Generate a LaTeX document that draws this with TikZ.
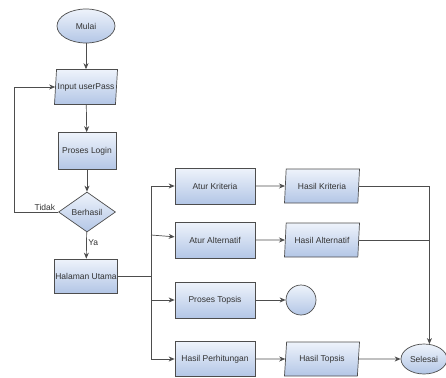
\documentclass[tikz,border=0pt]{standalone}
\usepackage{fontspec}
\setmainfont{Liberation Sans}
\usetikzlibrary{shapes.geometric,arrows.meta}
\definecolor{isiatas}{HTML}{EEF3FB}
\definecolor{isibawah}{HTML}{B3C6E6}
\definecolor{garis}{HTML}{4D4D4D}
\begin{document}
\begin{tikzpicture}[x=1pt,y=-1pt,
font=\fontsize{8.5}{10}\selectfont,
isi/.style={draw=garis, line width=0.7pt, top color=isiatas, bottom color=isibawah, inner sep=0pt, text=black!80},
proses/.style={isi, rectangle, minimum width=80pt, minimum height=36pt},
data/.style={isi, trapezium, trapezium left angle=75, trapezium right angle=105, trapezium stretches body, minimum width=75pt, minimum height=34pt},
ujung/.style={isi, ellipse},
keputusan/.style={isi, diamond, minimum width=57pt, minimum height=40pt},
garisbiasa/.style={draw=garis, line width=0.7pt},
panah/.style={garisbiasa, -{Stealth[length=6pt,width=5pt]}},
label/.style={text=black!80, inner sep=1.5pt}]
\useasboundingbox (0,0) rectangle (446,377);

% alur login
\node[ujung, minimum width=58pt, minimum height=34pt] (mulai) at (86,26) {Mulai};
\node[data, minimum width=63pt, minimum height=35pt] (input) at (86,87) {Input userPass};
\node[proses, minimum width=58pt, minimum height=37pt] (login) at (87,151) {Proses Login};
\node[keputusan] (berhasil) at (87,212) {Berhasil};
\node[proses, minimum width=63pt, minimum height=34pt] (utama) at (86,276) {Halaman Utama};

% menu
\node[proses] (kriteria) at (215,186) {Atur Kriteria};
\node[proses] (alternatif) at (215,240) {Atur Alternatif};
\node[proses] (topsis) at (215,300) {Proses Topsis};
\node[proses, minimum height=35pt] (hitung) at (215,359) {Hasil Perhitungan};

% hasil
\node[data] (hkriteria) at (322,186) {Hasil Kriteria};
\node[data] (halternatif) at (322,240) {Hasil Alternatif};
\node[isi, circle, minimum size=30pt] (lingkaran) at (301,300) {};
\node[data] (htopsis) at (322,359) {Hasil Topsis};
\node[ujung, minimum width=46pt, minimum height=30pt] (selesai) at (424,359) {Selesai};

\coordinate (cabang) at (151,276);
\coordinate (balik) at (14,212);

\draw[panah] (mulai) -- (input);
\draw[panah] (input) -- (login);
\draw[panah] (login) -- (berhasil);
\draw[panah] (berhasil) -- node[label, right, pos=0.4] {Ya} (utama);
\draw[panah] (berhasil.west) -- node[label, above, pos=0.3] {Tidak} (balik) |- (input.west);

\draw[garisbiasa] (utama.east) -- (cabang);
\draw[garisbiasa] (kriteria.west -| cabang) -- (hitung.west -| cabang);
\draw[panah] (kriteria.west -| cabang) -- (kriteria);
\draw[panah] ([yshift=5pt]alternatif.west -| cabang) -- (alternatif);
\draw[panah] (topsis.west -| cabang) -- (topsis);
\draw[panah] (hitung.west -| cabang) -- (hitung);

\draw[panah] (kriteria) -- (hkriteria);
\draw[panah] (alternatif) -- (halternatif);
\draw[panah] (topsis) -- (lingkaran);
\draw[panah] (hitung) -- (htopsis);
\draw[panah] (htopsis) -- (selesai);
\draw[panah] (hkriteria.east) -| (selesai.70);
\draw[garisbiasa] (halternatif.east) -- (halternatif.east -| selesai.70);
\end{tikzpicture}
\end{document}
